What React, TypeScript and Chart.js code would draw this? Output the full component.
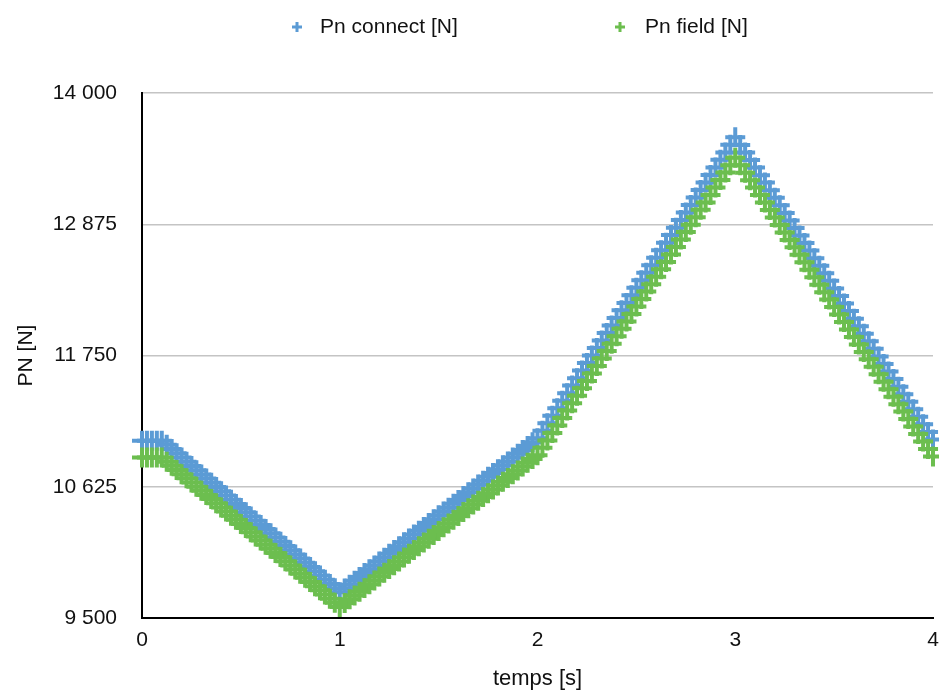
import React, { useEffect, useRef } from 'react';
import { Chart, registerables } from 'chart.js';

Chart.register(...registerables);

const timeS = [
  0, 0.025, 0.05, 0.075, 0.1, 0.125, 0.15, 0.175, 0.2, 0.225,
  0.25, 0.275, 0.3, 0.325, 0.35, 0.375, 0.4, 0.425, 0.45, 0.475,
  0.5, 0.525, 0.55, 0.575, 0.6, 0.625, 0.65, 0.675, 0.7, 0.725,
  0.75, 0.775, 0.8, 0.825, 0.85, 0.875, 0.9, 0.925, 0.95, 0.975,
  1, 1.025, 1.05, 1.075, 1.1, 1.125, 1.15, 1.175, 1.2, 1.225,
  1.25, 1.275, 1.3, 1.325, 1.35, 1.375, 1.4, 1.425, 1.45, 1.475,
  1.5, 1.525, 1.55, 1.575, 1.6, 1.625, 1.65, 1.675, 1.7, 1.725,
  1.75, 1.775, 1.8, 1.825, 1.85, 1.875, 1.9, 1.925, 1.95, 1.975,
  2, 2.025, 2.05, 2.075, 2.1, 2.125, 2.15, 2.175, 2.2, 2.225,
  2.25, 2.275, 2.3, 2.325, 2.35, 2.375, 2.4, 2.425, 2.45, 2.475,
  2.5, 2.525, 2.55, 2.575, 2.6, 2.625, 2.65, 2.675, 2.7, 2.725,
  2.75, 2.775, 2.8, 2.825, 2.85, 2.875, 2.9, 2.925, 2.95, 2.975,
  3, 3.025, 3.05, 3.075, 3.1, 3.125, 3.15, 3.175, 3.2, 3.225,
  3.25, 3.275, 3.3, 3.325, 3.35, 3.375, 3.4, 3.425, 3.45, 3.475,
  3.5, 3.525, 3.55, 3.575, 3.6, 3.625, 3.65, 3.675, 3.7, 3.725,
  3.75, 3.775, 3.8, 3.825, 3.85, 3.875, 3.9, 3.925, 3.95, 3.975,
  4,
];

const pnConnect = [
  11020, 11020, 11020, 11020, 11020, 10984, 10948, 10912, 10876, 10839,
  10803, 10767, 10731, 10695, 10659, 10623, 10587, 10551, 10514, 10478,
  10442, 10406, 10370, 10334, 10298, 10262, 10226, 10189, 10153, 10117,
  10081, 10045, 10009, 9973, 9937, 9901, 9864, 9828, 9792, 9756,
  9720, 9753, 9786, 9819, 9852, 9885, 9918, 9951, 9984, 10017,
  10050, 10083, 10116, 10149, 10182, 10215, 10248, 10281, 10314, 10347,
  10380, 10413, 10446, 10479, 10512, 10545, 10578, 10611, 10644, 10677,
  10710, 10743, 10776, 10809, 10842, 10875, 10908, 10941, 10974, 11007,
  11040, 11105, 11169, 11234, 11298, 11363, 11427, 11492, 11556, 11621,
  11685, 11750, 11814, 11879, 11943, 12008, 12072, 12137, 12201, 12266,
  12330, 12395, 12459, 12524, 12588, 12653, 12717, 12782, 12846, 12911,
  12975, 13040, 13104, 13169, 13233, 13298, 13362, 13427, 13491, 13556,
  13620, 13555, 13490, 13426, 13361, 13296, 13232, 13167, 13102, 13037,
  12972, 12908, 12843, 12778, 12714, 12649, 12584, 12519, 12454, 12390,
  12325, 12260, 12196, 12131, 12066, 12001, 11936, 11872, 11807, 11742,
  11678, 11613, 11548, 11483, 11418, 11354, 11289, 11224, 11160, 11095,
  11030,
];

const pnField = [
  10875, 10875, 10875, 10875, 10875, 10839, 10804, 10768, 10733, 10697,
  10662, 10626, 10591, 10555, 10519, 10484, 10448, 10413, 10377, 10342,
  10306, 10271, 10235, 10199, 10164, 10128, 10093, 10057, 10022, 9986,
  9951, 9915, 9879, 9844, 9808, 9773, 9737, 9702, 9666, 9631,
  9595, 9628, 9660, 9692, 9725, 9758, 9790, 9822, 9855, 9888,
  9920, 9952, 9985, 10018, 10050, 10082, 10115, 10148, 10180, 10212,
  10245, 10278, 10310, 10342, 10375, 10408, 10440, 10472, 10505, 10538,
  10570, 10602, 10635, 10668, 10700, 10732, 10765, 10798, 10830, 10862,
  10895, 10959, 11022, 11086, 11150, 11214, 11278, 11341, 11405, 11469,
  11532, 11596, 11660, 11724, 11788, 11851, 11915, 11979, 12042, 12106,
  12170, 12234, 12298, 12361, 12425, 12489, 12552, 12616, 12680, 12744,
  12808, 12871, 12935, 12999, 13062, 13126, 13190, 13254, 13318, 13381,
  13445, 13381, 13317, 13253, 13189, 13125, 13061, 12997, 12933, 12869,
  12805, 12741, 12677, 12613, 12549, 12485, 12421, 12357, 12293, 12229,
  12165, 12101, 12037, 11973, 11909, 11845, 11781, 11717, 11653, 11589,
  11525, 11461, 11397, 11333, 11269, 11205, 11141, 11077, 11013, 10949,
  10885,
];

const yTickValues = [9500, 10625, 11750, 12875, 14000];
const xTickValues = [0, 1, 2, 3, 4];
const seriesLabels = ['Pn connect [N]', 'Pn field [N]'];
const seriesColors = ['#5B9BD5', '#6CBE4F'];

const FONT = '"Liberation Sans", Arial, Helvetica, sans-serif';

const fmt = (v: number) =>
  String(Math.round(v)).replace(/\B(?=(\d{3})+(?!\d))/g, ' ');

const legendPlugin = {
  id: 'customLegend',
  afterDraw(chart: any) {
    const ctx = chart.ctx;
    const markerX = [297, 620];
    const textX = [320, 645];
    const y = 27;
    ctx.save();
    chart.data.datasets.forEach((ds: any, i: number) => {
      ctx.strokeStyle = ds.borderColor;
      ctx.lineWidth = 3;
      ctx.beginPath();
      ctx.moveTo(markerX[i] - 5, y);
      ctx.lineTo(markerX[i] + 5, y);
      ctx.moveTo(markerX[i], y - 5);
      ctx.lineTo(markerX[i], y + 5);
      ctx.stroke();
      ctx.fillStyle = '#111';
      ctx.font = `21px ${FONT}`;
      ctx.textBaseline = 'middle';
      ctx.textAlign = 'left';
      ctx.fillText(ds.label, textX[i], y);
    });
    ctx.restore();
  },
};

export default function App() {
  const ref = useRef<HTMLCanvasElement | null>(null);

  useEffect(() => {
    document.body.style.margin = '0';
    const canvas = ref.current;
    if (!canvas) return;
    const mk = (vals: number[]) => timeS.map((t, i) => ({ x: t, y: vals[i] }));
    const chart = new Chart(canvas, {
      type: 'scatter',
      data: {
        datasets: [
          {
            label: seriesLabels[0],
            data: mk(pnConnect),
            borderColor: seriesColors[0],
            backgroundColor: seriesColors[0],
            pointStyle: 'cross',
            pointRadius: 10,
            pointBorderWidth: 4,
            showLine: false,
            clip: false,
            order: 1,
          },
          {
            label: seriesLabels[1],
            data: mk(pnField),
            borderColor: seriesColors[1],
            backgroundColor: seriesColors[1],
            pointStyle: 'cross',
            pointRadius: 10,
            pointBorderWidth: 4,
            showLine: false,
            clip: false,
            order: 0,
          },
        ],
      },
      options: {
        responsive: false,
        animation: false,
        events: [],
        layout: { autoPadding: false, padding: { top: 93, right: 6, left: 0, bottom: 0 } },
        plugins: {
          legend: { display: false },
          tooltip: { enabled: false },
        },
        scales: {
          x: {
            type: 'linear',
            min: 0,
            max: 4,
            afterBuildTicks: (s: any) => {
              s.ticks = xTickValues.map((v) => ({ value: v }));
            },
            afterFit: (s: any) => {
              s.height = 75;
              s.paddingLeft = 0;
              s.paddingRight = 0;
            },
            grid: { color: 'rgba(0,0,0,0)', drawTicks: false },
            border: { display: true, color: '#000', width: 2 },
            ticks: {
              padding: 10,
              color: '#111',
              font: { family: FONT, size: 21 },
              callback: (v: any) => String(v),
            },
            title: {
              display: true,
              text: 'temps [s]',
              color: '#111',
              font: { family: FONT, size: 22 },
              padding: { top: 0, bottom: 1 },
            },
          },
          y: {
            type: 'linear',
            min: 9500,
            max: 14000,
            afterBuildTicks: (s: any) => {
              s.ticks = yTickValues.map((v) => ({ value: v }));
            },
            afterFit: (s: any) => {
              s.width = 142;
            },
            grid: { color: '#c4c4c4', lineWidth: 1.5, drawTicks: false },
            border: { display: true, color: '#000', width: 2 },
            ticks: {
              padding: 25,
              color: '#111',
              font: { family: FONT, size: 21 },
              callback: (v: any) => fmt(Number(v)),
            },
            title: {
              display: true,
              text: 'PN [N]',
              color: '#111',
              font: { family: FONT, size: 21 },
              padding: { top: 14, bottom: 0 },
            },
          },
        },
      },
      plugins: [legendPlugin],
    });
    return () => chart.destroy();
  }, []);

  return (
    <div style={{ position: 'absolute', left: 0, top: 0, width: 939, height: 693, background: '#fff' }}>
      <canvas ref={ref} width={939} height={693} style={{ display: 'block' }} />
    </div>
  );
}
